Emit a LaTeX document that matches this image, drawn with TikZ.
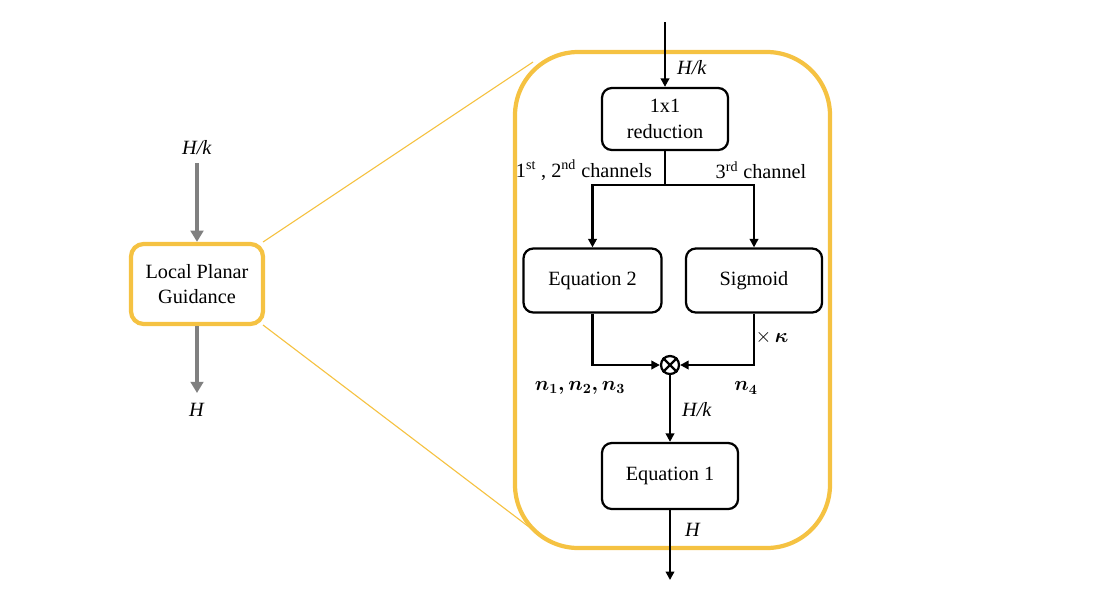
\documentclass[tikz,border=0pt]{standalone}
\usepackage{amsmath}
\usepackage{fontspec}
\setmainfont{Liberation Serif}
\usetikzlibrary{arrows.meta}
\begin{document}
\begin{tikzpicture}[x=0.025cm,y=-0.025cm,
  box/.style={draw,line width=1.6pt,rounded corners=7pt,align=center,font=\Large},
  arr/.style={-{Triangle[length=6pt,width=6pt]},line width=1.6pt},
  garr/.style={-{Triangle[length=8pt,width=9pt]},line width=2.5pt,gray},
  lbl/.style={font=\Large}]
\definecolor{org}{HTML}{F5C242}
\useasboundingbox (0,0) rectangle (1102,600);
\draw[org,line width=0.8pt] (263,242) -- (533,62);
\draw[org,line width=0.8pt] (263,325) -- (533,530);
\draw[org,line width=3pt,rounded corners=45pt,fill=white] (515,52) rectangle (830,548);
\node[draw=org,line width=3pt,rounded corners=9pt,align=center,font=\Large,inner sep=0pt,minimum height=2.0cm,minimum width=3.3cm] (lpg) at (197,284) {Local Planar\\Guidance};
\node[lbl] (hk0) at (197,148) {\textit{H/k}};
\node[lbl] (h0) at (197,410) {\textit{H}};
\draw[garr] (197,163) -- (lpg.north);
\draw[garr] (lpg.south) -- (197,393);
\coordinate (top) at (665,22);
\node[box,minimum width=3.15cm,minimum height=1.55cm] (red) at (665,119) {1x1\\reduction};
\draw[arr] (top) -- (red.north);
\node[lbl] at (692,68) {\textit{H/k}};
\node[box,minimum width=3.45cm,minimum height=1.6cm] (eq2) at (592.5,280.5) {Equation 2};
\node[box,minimum width=3.4cm,minimum height=1.6cm] (sig) at (754,280.5) {Sigmoid};
\coordinate (sp) at (665,185);
\draw[line width=1.6pt] (red.south) -- (sp);
\draw[arr] (sp) -| (eq2.north);
\draw[arr] (sp) -| (sig.north);
\node[lbl] at (584,170) {1\textsuperscript{st} , 2\textsuperscript{nd} channels};
\node[lbl] at (761,170) {3\textsuperscript{rd} channel};
\node[draw,circle,line width=1.6pt,minimum size=0.45cm,inner sep=0pt] (mul) at (670,365) {};
\draw[line width=1.6pt] (mul.north west) -- (mul.south east) (mul.north east) -- (mul.south west);
\draw[arr] (eq2.south) |- (mul.west);
\draw[arr] (sig.south) |- (mul.east);
\node[lbl] at (772,337) {$\times\,\boldsymbol{\kappa}$};
\node[lbl] at (580,388) {$\boldsymbol{n_1,n_2,n_3}$};
\node[lbl] at (746,388) {$\boldsymbol{n_4}$};
\node[box,minimum width=3.4cm,minimum height=1.65cm] (eq1) at (670,476) {Equation 1};
\draw[arr] (mul.south) -- (eq1.north);
\node[lbl] at (697,410) {\textit{H/k}};
\coordinate (bot) at (670,580);
\draw[arr] (eq1.south) -- (bot);
\node[lbl] at (693,530) {\textit{H}};
\end{tikzpicture}
\end{document}
